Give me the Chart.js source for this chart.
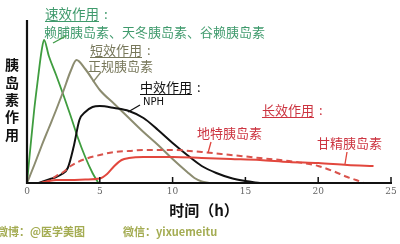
<!DOCTYPE html>
<html>
<head>
<meta charset="utf-8">
<script src="https://cdn.jsdelivr.net/npm/chart.js@4/dist/chart.umd.min.js"></script>
<style>
  html, body { margin: 0; padding: 0; background: #fff; }
  canvas { display: block; }
</style>
</head>
<body>
<canvas id="chart" width="400" height="244"></canvas>
<script>
// time ticks (hours)
const hourTicks = [0, 5, 10, 15, 20, 25];

// rapid-acting (green)
const rapidHours  = [0, 0.25, 0.5, 0.75, 1, 1.17, 1.5, 2, 2.5, 3, 3.5, 4, 4.5, 4.9];
const rapidValues = [0, 38, 74, 104, 132, 143, 127, 108, 88, 67, 45, 26, 10, 0];

// short-acting (regular insulin)
const shortHours  = [0, 0.5, 1, 1.5, 2, 2.5, 3, 3.4, 4, 5, 6, 7, 8, 9, 10, 11, 11.5, 12, 12.5];
const shortValues = [0, 18, 37, 55, 73, 92, 112, 123, 114, 93, 79, 65, 51, 38, 24, 11, 5, 1.5, 0];

// intermediate (NPH)
const nphHours  = [0.8, 1.2, 1.6, 2, 2.4, 2.8, 3.2, 3.6, 4, 4.5, 5, 6, 7, 8, 9, 10, 11, 12, 13, 14, 15, 16];
const nphValues = [0, 2, 4, 6, 9, 15, 36, 63, 71, 76, 77, 75, 72, 65, 53, 40, 28, 17, 10, 5, 2, 0];

// long-acting: detemir (dashed)
const detemirHours  = [1.2, 1.6, 2, 2.5, 3, 3.5, 4, 5, 6, 7, 8, 10, 12, 14, 16, 18, 19, 20, 21, 22, 22.6, 23.1];
const detemirValues = [0, 3, 7, 11, 17, 21, 24, 28, 31, 32, 33, 33, 31, 28, 25, 22, 20, 17, 12, 6, 3, 0];

// long-acting: glargine (solid)
const glargineHours  = [0.9, 1.5, 2, 3, 4, 5, 5.5, 6, 6.5, 7, 8, 10, 12, 14, 16, 18, 20, 22, 23.8];
const glargineValues = [0, 2, 3, 3, 3.5, 4.5, 9, 17, 23, 25, 26, 26, 25, 24, 23, 21, 20, 18, 17];

const pts = (xs, ys) => xs.map((x, i) => ({ x: x, y: ys[i] }));

const CJK = '"Noto Sans CJK SC", "Noto Sans", sans-serif';
const GREEN_TXT = '#3f9a6c', OLIVE_TXT = '#77775a', RED_TXT = '#cc3440';

// axes, ticks and annotations
const decor = {
  id: 'decor',
  afterDatasetsDraw(chart) {
    const { ctx, scales: { x, y }, chartArea } = chart;
    const x0 = x.getPixelForValue(0), y0 = y.getPixelForValue(0);
    const xEnd = x.getPixelForValue(hourTicks[hourTicks.length - 1]);
    ctx.save();
    ctx.strokeStyle = '#111';
    ctx.lineWidth = 2.2;
    ctx.beginPath();
    ctx.moveTo(x0, chartArea.top);
    ctx.lineTo(x0, y0);
    ctx.lineTo(xEnd + 1, y0);
    ctx.stroke();

    ctx.lineWidth = 1.5;
    ctx.font = '9px "DejaVu Serif", serif';
    ctx.fillStyle = '#666';
    ctx.textAlign = 'center';
    ctx.textBaseline = 'middle';
    hourTicks.forEach(t => {
      const px = x.getPixelForValue(t);
      if (t > 0) {
        ctx.beginPath();
        ctx.moveTo(px, y0);
        ctx.lineTo(px, y0 - 6);
        ctx.stroke();
      }
      ctx.fillText(String(t), px, y0 + 9);
    });
    ctx.restore();
  },
  afterDraw(chart) {
    const { ctx } = chart;
    ctx.save();
    ctx.textBaseline = 'middle';
    ctx.textAlign = 'left';

    // y title, vertical
    ctx.font = 'bold 14px ' + CJK;
    ctx.fillStyle = '#111';
    ctx.textAlign = 'center';
    '胰岛素作用'.split('').forEach((c, i) => ctx.fillText(c, 12, 65 + i * 17.3));
    // x title
    ctx.font = 'bold 15px ' + CJK;
    ctx.fillText('时间（h）', 204, 210);
    ctx.textAlign = 'left';

    const label = (txt, px, py, color, size, underline) => {
      ctx.font = size + 'px ' + CJK;
      ctx.fillStyle = color;
      ctx.fillText(txt, px, py);
      if (underline) {
        const w = ctx.measureText(txt).width;
        ctx.strokeStyle = color;
        ctx.lineWidth = 1;
        ctx.beginPath();
        ctx.moveTo(px, py + 7.5);
        ctx.lineTo(px + w, py + 7.5);
        ctx.stroke();
        ctx.fillText(':', px + w + 5, py);
      }
    };
    const leader = (ax, ay, bx, by, color) => {
      ctx.strokeStyle = color;
      ctx.lineWidth = 1.3;
      ctx.beginPath();
      ctx.moveTo(ax, ay);
      ctx.lineTo(bx, by);
      ctx.stroke();
    };

    label('速效作用', 45, 14, GREEN_TXT, 13.5, true);
    label('赖脯胰岛素、天冬胰岛素、谷赖胰岛素', 44, 32, GREEN_TXT, 13, false);
    leader(53, 43, 66, 36, '#3d9a46');

    label('短效作用', 90, 50, OLIVE_TXT, 13, true);
    label('正规胰岛素', 88, 66, OLIVE_TXT, 13, false);
    leader(93, 82, 101, 72, '#8a8a6c');

    label('中效作用', 140, 87, '#111', 13, true);
    ctx.font = '10px "DejaVu Sans", sans-serif';
    ctx.fillStyle = '#111';
    ctx.fillText('NPH', 143, 102);
    leader(128, 112, 140, 105, '#111');

    label('长效作用', 262, 110, RED_TXT, 13, true);
    label('地特胰岛素', 197, 133, RED_TXT, 13, false);
    leader(208, 153, 211, 142, '#e0443c');
    label('甘精胰岛素', 317, 143, RED_TXT, 13, false);
    leader(345, 164, 347, 152, '#e0443c');

    // watermark
    ctx.font = 'bold 11px ' + CJK;
    ctx.fillStyle = '#a4ac52';
    ctx.fillText('微博：@医学美图', -3, 232);
    ctx.fillText('微信：yixuemeitu', 123, 232);
    ctx.restore();
  }
};

const line = (data, color, extra) => Object.assign({
  data: data,
  borderColor: color,
  borderWidth: 2,
  pointRadius: 0,
  fill: false,
  cubicInterpolationMode: 'monotone',
  clip: 6
}, extra || {});

new Chart(document.getElementById('chart'), {
  type: 'line',
  data: {
    datasets: [
      line(pts(glargineHours, glargineValues), '#e2473d'),
      line(pts(detemirHours, detemirValues), '#d9534c', { borderDash: [6, 4] }),
      line(pts(nphHours, nphValues), '#111'),
      line(pts(shortHours, shortValues), '#8c8c70'),
      line(pts(rapidHours, rapidValues), '#3f9d3f', { borderWidth: 1.8 })
    ]
  },
  options: {
    responsive: false,
    animation: false,
    layout: { padding: { left: 27, right: 9, top: 20, bottom: 61 } },
    scales: {
      x: { type: 'linear', min: 0, max: 25, display: false },
      y: { min: 0, max: 163, display: false }
    },
    plugins: { legend: { display: false }, tooltip: { enabled: false } }
  },
  plugins: [decor]
});
</script>
</body>
</html>
